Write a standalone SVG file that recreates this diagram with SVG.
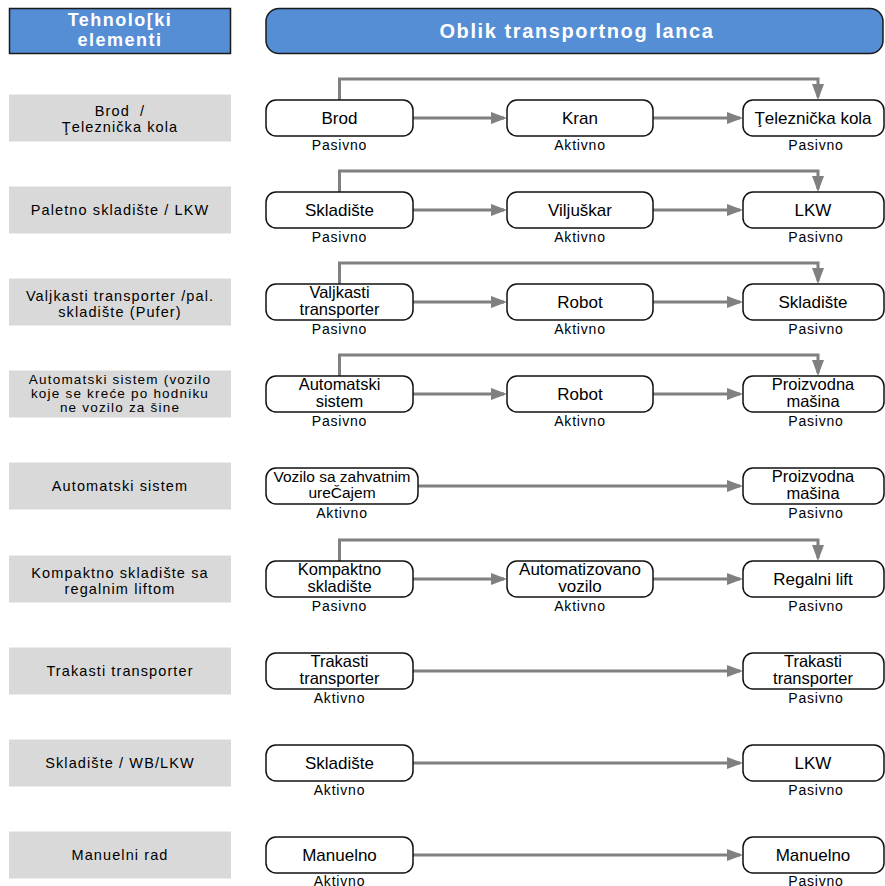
<svg xmlns="http://www.w3.org/2000/svg" width="885" height="886" viewBox="0 0 885 886">
  <style>
    text { font-family: "Liberation Sans", Arial, sans-serif; fill: #000; text-anchor: middle; }
    .hdr rect { fill: #558ed5; stroke: #1a1a1a; stroke-width: 1.5; }
    .hdr text { fill: #fff; font-weight: bold; font-size: 18px; letter-spacing: 1.5px; }
    .hdr text.big { font-size: 20px; letter-spacing: 1.6px; }
    .cat rect { fill: #d9d9d9; }
    .cat text { font-size: 14.5px; letter-spacing: 1.1px; }
    .cat text.sm { font-size: 13.5px; letter-spacing: 1.2px; }
    .node rect { fill: #fff; stroke: #111; stroke-width: 1.5; }
    .node text { font-size: 17px; }
    .node text.two { font-size: 16.5px; }
    .node text.lbl { font-size: 14px; letter-spacing: 0.8px; }
    .conn { fill: none; stroke: #808080; stroke-width: 3; marker-end: url(#arrow); }
  </style>
  <defs>
    <marker id="arrow" viewBox="0 0 16 12" refX="13" refY="6" markerWidth="16" markerHeight="12" markerUnits="userSpaceOnUse" orient="auto">
      <path d="M0,0 L16,6 L0,12 z" fill="#808080"/>
    </marker>
  </defs>

  <!-- column headers -->
  <g id="hdr-elements" class="hdr">
    <rect x="9.5" y="8.5" width="221" height="45"/>
    <text x="120" y="26">Tehnolo[ki</text>
    <text x="120" y="46">elementi</text>
  </g>
  <g id="hdr-chain" class="hdr">
    <rect x="266" y="8.5" width="617" height="45" rx="13"/>
    <text class="big" x="577" y="38">Oblik transportnog lanca</text>
  </g>

  <!-- category labels (left column) -->
  <g id="cat-1" class="cat">
    <rect x="9" y="94.5" width="222" height="47"/>
    <text x="120" y="115.5" style="white-space:pre">Brod  /</text>
    <text x="120" y="131.5">Ţeleznička kola</text>
  </g>
  <g id="cat-2" class="cat">
    <rect x="9" y="186.5" width="222" height="47"/>
    <text x="120" y="215">Paletno skladište / LKW</text>
  </g>
  <g id="cat-3" class="cat">
    <rect x="9" y="278.5" width="222" height="47"/>
    <text x="120" y="300.5">Valjkasti transporter /pal.</text>
    <text x="120" y="316.5">skladište (Pufer)</text>
  </g>
  <g id="cat-4" class="cat">
    <rect x="9" y="370.5" width="222" height="47"/>
    <text class="sm" x="120" y="384">Automatski sistem (vozilo</text>
    <text class="sm" x="120" y="398">koje se kreće po hodniku</text>
    <text class="sm" x="120" y="412">ne vozilo za šine</text>
  </g>
  <g id="cat-5" class="cat">
    <rect x="9" y="462.5" width="222" height="47"/>
    <text x="120" y="491">Automatski sistem</text>
  </g>
  <g id="cat-6" class="cat">
    <rect x="9" y="555.5" width="222" height="47"/>
    <text x="120" y="577.5">Kompaktno skladište sa</text>
    <text x="120" y="593.5">regalnim liftom</text>
  </g>
  <g id="cat-7" class="cat">
    <rect x="9" y="647.5" width="222" height="47"/>
    <text x="120" y="676">Trakasti transporter</text>
  </g>
  <g id="cat-8" class="cat">
    <rect x="9" y="739.5" width="222" height="47"/>
    <text x="120" y="768">Skladište / WB/LKW</text>
  </g>
  <g id="cat-9" class="cat">
    <rect x="9" y="831.5" width="222" height="47"/>
    <text x="120" y="860">Manuelni rad</text>
  </g>

  <!-- connectors -->
  <g id="connectors">
    <!-- row 1 -->
    <path class="conn" d="M339.5,100 V79 H818 V97"/>
    <path class="conn" d="M413,118 H504"/>
    <path class="conn" d="M653,118 H740"/>
    <!-- row 2 -->
    <path class="conn" d="M339.5,192 V171 H818 V189"/>
    <path class="conn" d="M413,210 H504"/>
    <path class="conn" d="M653,210 H740"/>
    <!-- row 3 -->
    <path class="conn" d="M339.5,284 V263 H818 V281"/>
    <path class="conn" d="M413,302 H504"/>
    <path class="conn" d="M653,302 H740"/>
    <!-- row 4 -->
    <path class="conn" d="M339.5,376 V355 H818 V373"/>
    <path class="conn" d="M413,394 H504"/>
    <path class="conn" d="M653,394 H740"/>
    <!-- row 5 -->
    <path class="conn" d="M418,486 H740"/>
    <!-- row 6 -->
    <path class="conn" d="M339.5,561 V540 H818 V558"/>
    <path class="conn" d="M413,579 H504"/>
    <path class="conn" d="M653,579 H740"/>
    <!-- rows 7-9 -->
    <path class="conn" d="M413,671 H740"/>
    <path class="conn" d="M413,763 H740"/>
    <path class="conn" d="M413,855 H740"/>
  </g>

  <!-- row 1 -->
  <g id="n1a" class="node">
    <rect x="266" y="100" width="147" height="36" rx="10"/>
    <text x="339.5" y="124">Brod</text>
    <text class="lbl" x="339.5" y="150">Pasivno</text>
  </g>
  <g id="n1b" class="node">
    <rect x="507" y="100" width="146" height="36" rx="10"/>
    <text x="580" y="124">Kran</text>
    <text class="lbl" x="580" y="150">Aktivno</text>
  </g>
  <g id="n1c" class="node">
    <rect x="743" y="100" width="141" height="36" rx="10"/>
    <text x="813" y="124">Ţeleznička kola</text>
    <text class="lbl" x="816" y="150">Pasivno</text>
  </g>

  <!-- row 2 -->
  <g id="n2a" class="node">
    <rect x="266" y="192" width="147" height="36" rx="10"/>
    <text x="339.5" y="216">Skladište</text>
    <text class="lbl" x="339.5" y="242">Pasivno</text>
  </g>
  <g id="n2b" class="node">
    <rect x="507" y="192" width="146" height="36" rx="10"/>
    <text x="580" y="216">Viljuškar</text>
    <text class="lbl" x="580" y="242">Aktivno</text>
  </g>
  <g id="n2c" class="node">
    <rect x="743" y="192" width="141" height="36" rx="10"/>
    <text x="813" y="216">LKW</text>
    <text class="lbl" x="816" y="242">Pasivno</text>
  </g>

  <!-- row 3 -->
  <g id="n3a" class="node">
    <rect x="266" y="284" width="147" height="36" rx="10"/>
    <text class="two" x="339.5" y="298">Valjkasti</text>
    <text class="two" x="339.5" y="315">transporter</text>
    <text class="lbl" x="339.5" y="334">Pasivno</text>
  </g>
  <g id="n3b" class="node">
    <rect x="507" y="284" width="146" height="36" rx="10"/>
    <text x="580" y="308">Robot</text>
    <text class="lbl" x="580" y="334">Aktivno</text>
  </g>
  <g id="n3c" class="node">
    <rect x="743" y="284" width="141" height="36" rx="10"/>
    <text x="813" y="308">Skladište</text>
    <text class="lbl" x="816" y="334">Pasivno</text>
  </g>

  <!-- row 4 -->
  <g id="n4a" class="node">
    <rect x="266" y="376" width="147" height="36" rx="10"/>
    <text class="two" x="339.5" y="390">Automatski</text>
    <text class="two" x="339.5" y="407">sistem</text>
    <text class="lbl" x="339.5" y="426">Pasivno</text>
  </g>
  <g id="n4b" class="node">
    <rect x="507" y="376" width="146" height="36" rx="10"/>
    <text x="580" y="400">Robot</text>
    <text class="lbl" x="580" y="426">Aktivno</text>
  </g>
  <g id="n4c" class="node">
    <rect x="743" y="376" width="141" height="36" rx="10"/>
    <text class="two" x="813" y="390">Proizvodna</text>
    <text class="two" x="813" y="407">mašina</text>
    <text class="lbl" x="816" y="426">Pasivno</text>
  </g>

  <!-- row 5 -->
  <g id="n5a" class="node">
    <rect x="266" y="468" width="152" height="36" rx="10"/>
    <text x="342" y="482" style="font-size:15.5px">Vozilo sa zahvatnim</text>
    <text x="342" y="498" style="font-size:15.5px">ureČajem</text>
    <text class="lbl" x="342" y="518">Aktivno</text>
  </g>
  <g id="n5c" class="node">
    <rect x="743" y="468" width="141" height="36" rx="10"/>
    <text class="two" x="813" y="482">Proizvodna</text>
    <text class="two" x="813" y="499">mašina</text>
    <text class="lbl" x="816" y="518">Pasivno</text>
  </g>

  <!-- row 6 -->
  <g id="n6a" class="node">
    <rect x="266" y="561" width="147" height="36" rx="10"/>
    <text class="two" x="339.5" y="575">Kompaktno</text>
    <text class="two" x="339.5" y="592">skladište</text>
    <text class="lbl" x="339.5" y="611">Pasivno</text>
  </g>
  <g id="n6b" class="node">
    <rect x="507" y="561" width="146" height="36" rx="10"/>
    <text x="580" y="575" style="font-size:17px">Automatizovano</text>
    <text x="580" y="592" style="font-size:17px">vozilo</text>
    <text class="lbl" x="580" y="611">Aktivno</text>
  </g>
  <g id="n6c" class="node">
    <rect x="743" y="561" width="141" height="36" rx="10"/>
    <text x="813" y="585">Regalni lift</text>
    <text class="lbl" x="816" y="611">Pasivno</text>
  </g>

  <!-- row 7 -->
  <g id="n7a" class="node">
    <rect x="266" y="653" width="147" height="36" rx="10"/>
    <text class="two" x="339.5" y="667">Trakasti</text>
    <text class="two" x="339.5" y="684">transporter</text>
    <text class="lbl" x="339.5" y="703">Aktivno</text>
  </g>
  <g id="n7c" class="node">
    <rect x="743" y="653" width="141" height="36" rx="10"/>
    <text class="two" x="813" y="667">Trakasti</text>
    <text class="two" x="813" y="684">transporter</text>
    <text class="lbl" x="816" y="703">Pasivno</text>
  </g>

  <!-- row 8 -->
  <g id="n8a" class="node">
    <rect x="266" y="745" width="147" height="36" rx="10"/>
    <text x="339.5" y="769">Skladište</text>
    <text class="lbl" x="339.5" y="795">Aktivno</text>
  </g>
  <g id="n8c" class="node">
    <rect x="743" y="745" width="141" height="36" rx="10"/>
    <text x="813" y="769">LKW</text>
    <text class="lbl" x="816" y="795">Pasivno</text>
  </g>

  <!-- row 9 -->
  <g id="n9a" class="node">
    <rect x="266" y="837" width="147" height="36" rx="10"/>
    <text x="339.5" y="861">Manuelno</text>
    <text class="lbl" x="339.5" y="885.5">Aktivno</text>
  </g>
  <g id="n9c" class="node">
    <rect x="743" y="837" width="141" height="36" rx="10"/>
    <text x="813" y="861">Manuelno</text>
    <text class="lbl" x="816" y="885.5">Pasivno</text>
  </g>
</svg>
